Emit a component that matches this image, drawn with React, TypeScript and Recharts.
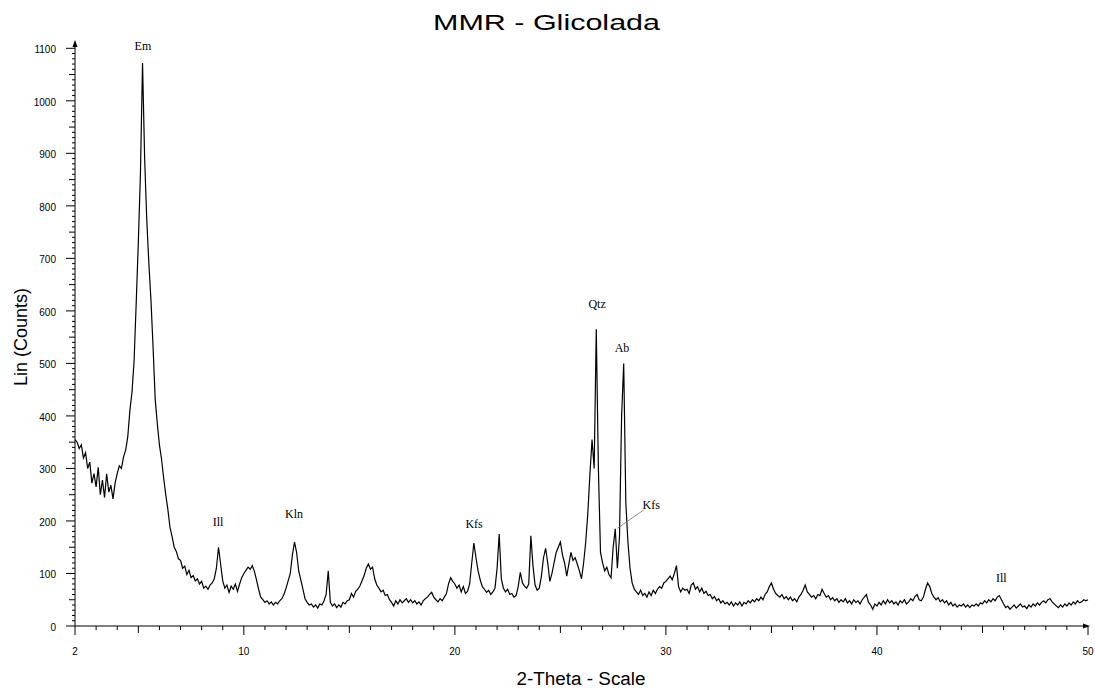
import React from 'react';
import { LineChart, Line, XAxis, YAxis, ReferenceDot, ReferenceLine } from 'recharts';

// 2-theta grid of the scan
const THETA_START = 2;
const THETA_STEP = 0.1;

// intensities, one row per degree (x.0 .. x.9)
const counts: number[] = [
  355, 350, 338, 345, 320, 330, 300, 312, 272, 290,
  265, 302, 250, 278, 245, 290, 255, 268, 242, 272,
  290, 305, 300, 322, 335, 360, 410, 445, 505, 615,
  730, 860, 1072, 890, 774, 690, 620, 530, 432, 385,
  345, 318, 282, 250, 222, 188, 170, 150, 142, 128,
  125, 110, 114, 98, 106, 92, 96, 86, 90, 80,
  85, 72, 76, 70, 78, 82, 90, 110, 150, 118,
  86, 72, 78, 64, 76, 70, 80, 66, 80, 92,
  100, 106, 112, 108, 115, 104, 88, 70, 55, 50,
  45, 48, 42, 46, 40, 45, 42, 48, 52, 60,
  72, 86, 100, 135, 160, 140, 105, 88, 70, 52,
  45, 40, 42, 36, 40, 34, 42, 40, 48, 60,
  105, 45, 38, 42, 35, 40, 36, 45, 42, 48,
  50, 62, 55, 66, 70, 76, 86, 96, 110, 118,
  108, 112, 90, 78, 72, 65, 68, 58, 60, 50,
  45, 38, 48, 42, 50, 44, 48, 52, 45, 50,
  44, 48, 42, 46, 40, 48, 52, 55, 60, 64,
  55, 50, 46, 52, 48, 55, 62, 80, 92, 85,
  80, 72, 78, 65, 75, 62, 66, 80, 120, 158,
  130, 105, 88, 75, 70, 64, 68, 60, 65, 72,
  110, 175, 90, 72, 65, 70, 60, 62, 55, 58,
  75, 102, 82, 76, 72, 80, 172, 115, 78, 68,
  72, 95, 130, 148, 120, 85, 100, 120, 140, 150,
  160, 135, 120, 95, 118, 140, 125, 130, 118, 105,
  90, 120, 160, 215, 290, 355, 300, 565, 300, 140,
  120, 105, 112, 98, 92, 150, 185, 110, 170, 400,
  500, 235, 160, 110, 82, 70, 65, 60, 68, 58,
  62, 55, 65, 58, 68, 62, 70, 75, 72, 82,
  85, 90, 95, 88, 100, 115, 75, 65, 72, 68,
  70, 62, 78, 82, 70, 75, 65, 72, 62, 66,
  58, 60, 52, 56, 48, 52, 44, 48, 42, 45,
  40, 46, 38, 44, 40, 46, 38, 45, 42, 48,
  44, 50, 46, 52, 48, 55, 50, 60, 65, 75,
  82, 70, 62, 58, 55, 60, 52, 56, 50, 55,
  48, 52, 46, 55, 60, 68, 78, 65, 60, 55,
  58, 52, 60, 58, 70, 62, 55, 58, 50, 54,
  48, 52, 45, 50, 46, 52, 44, 48, 42, 50,
  45, 48, 42, 50, 55, 60, 45, 40, 32, 42,
  38, 45, 40, 48, 42, 50, 44, 48, 42, 46,
  40, 48, 44, 50, 42, 46, 52, 48, 56, 60,
  50, 48, 55, 70, 82, 75, 62, 55, 50, 54,
  46, 50, 44, 48, 40, 45, 38, 42, 36, 40,
  38, 42, 36, 40, 35, 40, 38, 42, 38, 44,
  42, 48, 44, 50, 46, 52, 48, 55, 58, 50,
  42, 35, 38, 32, 36, 40, 34, 38, 42, 36,
  38, 33, 40, 36, 42, 38, 44, 40, 45, 48,
  44, 50, 52, 46, 42, 38, 35, 40, 36, 42,
  38, 44, 40, 46, 42, 48, 44, 46, 50, 48,
  50,
];

const xTickLabels = [2, 10, 20, 30, 40, 50];
const yTickLabels = [0, 100, 200, 300, 400, 500, 600, 700, 800, 900, 1000, 1100];

// phase labels: text, 2-theta, counts
const phaseLabels: Array<[string, number, number]> = [
  ['Em', 5.22, 1104],
  ['Ill', 8.78, 198],
  ['Kln', 12.38, 213],
  ['Kfs', 20.91, 194],
  ['Qtz', 26.74, 613],
  ['Ab', 27.92, 529],
  ['Kfs', 29.3, 230],
  ['Ill', 45.89, 91],
];

const data = counts.map((c, i) => ({
  theta: +(THETA_START + i * THETA_STEP).toFixed(1),
  counts: c,
}));

const xMinor = Array.from({ length: 49 }, (_, i) => 2 + i);
const yMinor = Array.from({ length: 111 }, (_, i) => i * 10);

const sans = 'Liberation Sans, Arial, sans-serif';
const serif = 'Liberation Serif, Times New Roman, serif';

const XTick = (p: any) => {
  const v = p.payload.value;
  const label = xTickLabels.includes(v);
  const len = label ? 9 : v % 5 === 0 ? 7 : 4;
  return (
    <g>
      <line x1={p.x} x2={p.x} y1={p.y} y2={p.y + len} stroke="#000" strokeWidth={1} />
      {label && (
        <text x={p.x} y={p.y + 29} textAnchor="middle" fontSize={10} fontFamily={sans} fill="#000">
          {v}
        </text>
      )}
    </g>
  );
};

const YTick = (p: any) => {
  const v = p.payload.value;
  const label = yTickLabels.includes(v);
  const len = label ? 9 : v % 50 === 0 ? 6 : 3;
  return (
    <g>
      <line x1={p.x} x2={p.x - len} y1={p.y} y2={p.y} stroke="#000" strokeWidth={1} />
      {label && (
        <text x={p.x - 19} y={p.y + 5} textAnchor="end" fontSize={10} fontFamily={sans} fill="#000">
          {v}
        </text>
      )}
    </g>
  );
};

const App = () => {
  return (
    <div style={{ position: 'absolute', left: 0, top: 0, width: 1095, height: 693, background: '#fff' }}>
      <LineChart width={1095} height={693} data={data} margin={{ top: 42, right: 7, bottom: 27, left: 15 }}>
        <XAxis
          dataKey="theta"
          type="number"
          domain={[2, 50]}
          ticks={xMinor}
          interval={0}
          tickLine={false}
          tickSize={0}
          tickMargin={0}
          height={40}
          axisLine={{ stroke: '#000' }}
          tick={(p: any) => <XTick {...p} />}
        />
        <YAxis
          type="number"
          domain={[0, 1112]}
          ticks={yMinor}
          interval={0}
          width={60}
          tickLine={false}
          tickSize={0}
          tickMargin={0}
          axisLine={{ stroke: '#000' }}
          tick={(p: any) => <YTick {...p} />}
        />
        <Line
          dataKey="counts"
          type="linear"
          stroke="#000"
          strokeWidth={1.2}
          dot={false}
          activeDot={false}
          isAnimationActive={false}
        />
        <ReferenceLine
          segment={[{ x: 27.7, y: 186 }, { x: 28.95, y: 221 }]}
          stroke="#777"
          strokeWidth={0.8}
          ifOverflow="visible"
        />
        {phaseLabels.map(([t, x, y], i) => (
          <ReferenceDot
            key={i}
            x={x}
            y={y}
            r={0}
            ifOverflow="visible"
            shape={(p: any) => (
              <text x={p.cx} y={p.cy + 4} textAnchor="middle" fontSize={12} fontFamily={serif} fill="#000">
                {t}
              </text>
            )}
          />
        ))}
        <ReferenceDot
          x={2}
          y={1112}
          r={0}
          ifOverflow="visible"
          shape={(p: any) => (
            <path d={`M${p.cx},${p.cy - 2} L${p.cx - 2.5},${p.cy + 5} L${p.cx + 2.5},${p.cy + 5} Z`} fill="#000" />
          )}
        />
        <ReferenceDot
          x={50}
          y={0}
          r={0}
          ifOverflow="visible"
          shape={(p: any) => (
            <path d={`M${p.cx + 2},${p.cy} L${p.cx - 5},${p.cy - 2.5} L${p.cx - 5},${p.cy + 2.5} Z`} fill="#000" />
          )}
        />
      </LineChart>
      <svg width={1095} height={693} style={{ position: 'absolute', left: 0, top: 0, pointerEvents: 'none' }}>
        <text x={433} y={30} fontSize={22} fontFamily={sans} textLength={227} lengthAdjust="spacingAndGlyphs" fill="#000">
          MMR - Glicolada
        </text>
        <text
          x={0}
          y={0}
          transform="translate(27,337) rotate(-90)"
          textAnchor="middle"
          fontSize={18}
          fontFamily={sans}
          fill="#000"
        >
          Lin (Counts)
        </text>
        <text x={581} y={685} textAnchor="middle" fontSize={18} fontFamily={sans} textLength={129} lengthAdjust="spacingAndGlyphs" fill="#000">
          2-Theta - Scale
        </text>
      </svg>
    </div>
  );
};

export default App;
